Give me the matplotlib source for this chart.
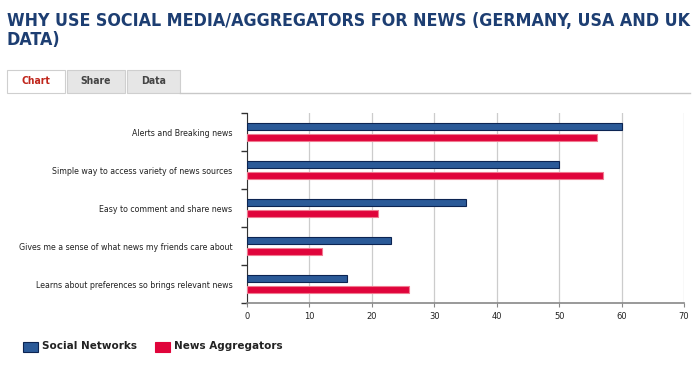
import matplotlib
matplotlib.use("Agg")
from matplotlib import pyplot as plt
from matplotlib.patches import Rectangle
import numpy as np

# data
categories = ["Alerts and Breaking news",
              "Simple way to access variety of news sources",
              "Easy to comment and share news",
              "Gives me a sense of what news my friends care about",
              "Learns about preferences so brings relevant news"]
social = [60, 50, 35, 23, 16]
aggregators = [56, 57, 21, 12, 26]
series_names = ["Social Networks", "News Aggregators"]
xticks = [0, 10, 20, 30, 40, 50, 60, 70]

blue = "#2b5a98"
red = "#e0043b"

fig = plt.figure(figsize=(7, 3.73), dpi=100)
W, H = 700, 373

# title
fig.text(7/W, 1 - 12/H, "WHY USE SOCIAL MEDIA/AGGREGATORS FOR NEWS (GERMANY, USA AND UK\nDATA)",
         ha="left", va="top", fontsize=12.8, fontweight="bold", color="#1d3e72",
         family="DejaVu Sans", fontstretch="condensed", linespacing=1.05)

# tabs
tabs = [("Chart", 7, 65, "white", "#c0261c"), ("Share", 67, 125, "#e6e6e6", "#444444"),
        ("Data", 127, 180, "#e6e6e6", "#444444")]
for name, x0, x1, fc, tc in tabs:
    fig.patches.append(Rectangle((x0/W, 1 - 93/H), (x1-x0)/W, 23/H, transform=fig.transFigure,
                                 facecolor=fc, edgecolor="#cfcfcf", linewidth=0.8))
    fig.text((x0+x1)/2/W, 1 - 81/H, name, ha="center", va="center", fontsize=7.5,
             fontweight="bold", color=tc, family="DejaVu Sans", fontstretch="condensed")
fig.lines.append(plt.Line2D([180/W, 690/W], [1 - 93/H, 1 - 93/H], transform=fig.transFigure,
                            color="#c8c8c8", linewidth=1))

ax = fig.add_axes([247/W, (373-303)/H, (684-247)/W, (303-113)/H])
y = np.arange(len(categories))
h = 0.19
off = 0.15
ax.barh(y - off, social, height=h, color=blue, edgecolor="#0c2452", linewidth=0.8, zorder=3)
ax.barh(y + off, aggregators, height=h, color=red, edgecolor="#f07a90", linewidth=0.8, zorder=3)
ax.set_ylim(len(categories) - 0.5, -0.5)
ax.set_xlim(0, 70)
ax.set_yticks(y)
ax.set_yticklabels(categories, fontsize=5.7, color="#222222")
ax.tick_params(axis="y", length=0, pad=10.5)
ax.set_yticks(np.arange(-0.5, len(categories)), minor=True)
ax.tick_params(axis="y", which="minor", length=4, width=1, color="#333333")
ax.set_xticks(xticks)
ax.tick_params(axis="x", labelsize=6, length=3, color="#888888", labelcolor="#222222")
ax.grid(axis="x", color="#cccccc", linewidth=0.9, zorder=0)
for s in ["top", "right"]:
    ax.spines[s].set_visible(False)
ax.spines["left"].set_color("#333333")
ax.spines["bottom"].set_color("#888888")
ax.spines["bottom"].set_linewidth(1.2)

# legend
for i, (name, c, ec) in enumerate(zip(series_names, [blue, red], ["#0c2452", red])):
    x0 = [23, 155][i]
    fig.patches.append(Rectangle((x0/W, 1 - 352/H), 15/W, 10/H, transform=fig.transFigure,
                                 facecolor=c, edgecolor=ec, linewidth=0.8))
    fig.text((x0 + 19)/W, 1 - 346/H, name, ha="left", va="center", fontsize=7.5,
             fontweight="bold", color="#222222")

fig.savefig("out.png", dpi=100)
